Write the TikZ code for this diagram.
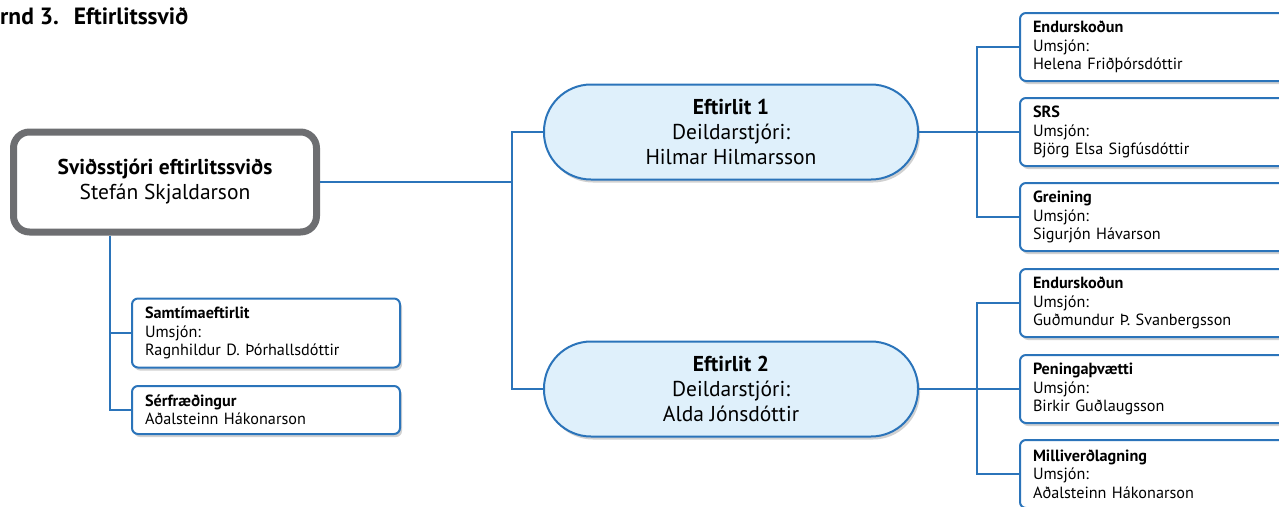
\documentclass[tikz,border=0pt]{standalone}
\usepackage{fontspec}
\setmainfont{PT Sans}
\usepackage{tikz}
\usetikzlibrary{positioning, shadows, calc}
\definecolor{lineblue}{HTML}{2B74BA}
\definecolor{paleblue}{HTML}{DFF0FB}
\definecolor{framegray}{HTML}{6D6E71}
\tikzset{
	softshadow/.style={drop shadow={shadow xshift=2pt, shadow yshift=-3pt, opacity=0.3, fill=black!60}},
	chiefbox/.style={rectangle, rounded corners=16pt, draw=framegray, line width=7pt, fill=white, minimum width=303pt, minimum height=100pt, align=center, font=\fontsize{21.5}{25}\selectfont, softshadow},
	leadbox/.style={rectangle, rounded corners=47pt, draw=lineblue, line width=2pt, fill=paleblue, minimum width=374pt, minimum height=95pt, align=center, font=\fontsize{21.5}{25}\selectfont, softshadow},
	unitbox/.style={rectangle, rounded corners=6pt, draw=lineblue, line width=2pt, fill=white, anchor=west, align=left, inner xsep=13pt, font=\fontsize{16.2}{18.3}\selectfont, softshadow},
	conn/.style={draw=lineblue, line width=2pt}
}
\begin{document}
\begin{tikzpicture}[x=1pt, y=-1pt]
	\newcommand\unitLeft{1019}
	\newcommand\unitWidth{280pt}
	\useasboundingbox (0,0) rectangle (1279,506);
	\clip (0,0) rectangle (1279,506);
	\node[anchor=west, inner sep=0pt, font=\bfseries\fontsize{23.5}{25}\selectfont] (title) at (0,16) {rnd 3.\hspace{15pt}Eftirlitssvið};
	\node[chiefbox] (chief) at (165,182) {\textbf{Sviðsstjóri eftirlitssviðs}\\Stefán Skjaldarson};
	\node[leadbox] (lead1) at (731,132) {\textbf{Eftirlit 1}\\Deildarstjóri:\\Hilmar Hilmarsson};
	\node[leadbox] (lead2) at (731,389) {\textbf{Eftirlit 2}\\Deildarstjóri:\\Alda Jónsdóttir};
	\node[unitbox, text width=\unitWidth, minimum height=68pt] (unit1) at (\unitLeft,47)  {\textbf{Endurskoðun}\\Umsjón:\\Helena Friðþórsdóttir};
	\node[unitbox, text width=\unitWidth, minimum height=68pt] (unit2) at (\unitLeft,132) {\textbf{SRS}\\Umsjón:\\Björg Elsa Sigfúsdóttir};
	\node[unitbox, text width=\unitWidth, minimum height=68pt] (unit3) at (\unitLeft,217) {\textbf{Greining}\\Umsjón:\\Sigurjón Hávarson};
	\node[unitbox, text width=\unitWidth, minimum height=68pt] (unit4) at (\unitLeft,303) {\textbf{Endurskoðun}\\Umsjón:\\Guðmundur Þ. Svanbergsson};
	\node[unitbox, text width=\unitWidth, minimum height=68pt] (unit5) at (\unitLeft,389) {\textbf{Peningaþvætti}\\Umsjón:\\Birkir Guðlaugsson};
	\node[unitbox, text width=\unitWidth, minimum height=68pt] (unit6) at (\unitLeft,474) {\textbf{Milliverðlagning}\\Umsjón:\\Aðalsteinn Hákonarson};
	\node[unitbox, text width=242pt, minimum height=69pt] (contemp) at (131,333) {\textbf{Samtímaeftirlit}\\Umsjón:\\Ragnhildur D. Þórhallsdóttir};
	\node[unitbox, text width=242pt, minimum height=48pt] (expert) at (131,410) {\textbf{Sérfræðingur}\\Aðalsteinn Hákonarson};
	\coordinate (hub) at (512,182);
	\coordinate (hubA) at (977,132);
	\coordinate (hubB) at (977,389);
	\coordinate (hubC) at (110,410);
	\draw[conn] (chief.east) -- (hub);
	\draw[conn] (lead1.west) -| (hub) |- (lead2.west);
	\draw[conn] (lead1.east) -- (unit2.west);
	\draw[conn] (unit1.west) -| (hubA) |- (unit3.west);
	\draw[conn] (lead2.east) -- (unit5.west);
	\draw[conn] (unit4.west) -| (hubB) |- (unit6.west);
	\draw[conn] (chief.south -| hubC) -- (hubC) -- (expert.west);
	\draw[conn] (contemp.west) -- (contemp.west -| hubC);
\end{tikzpicture}
\end{document}
